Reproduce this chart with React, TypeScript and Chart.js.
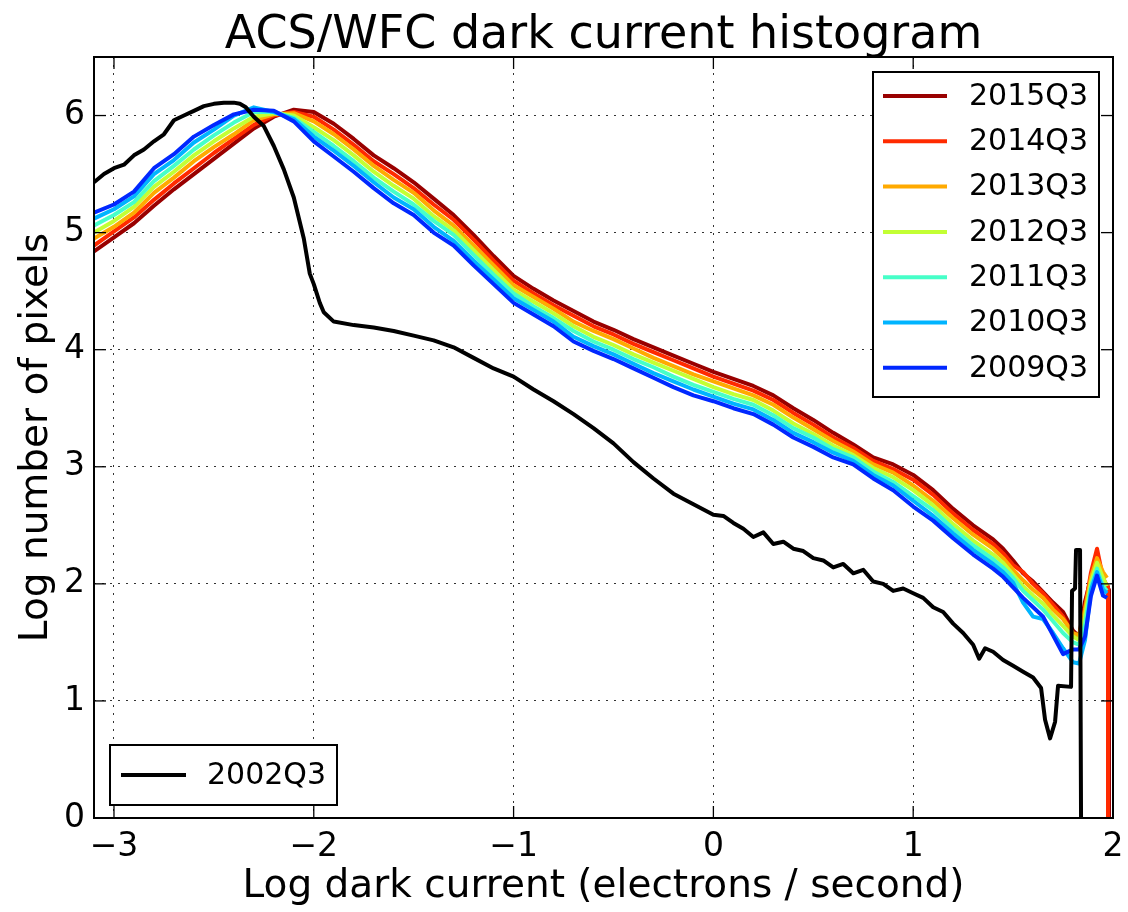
import React, { useEffect, useRef } from 'react';
import { Chart, registerables } from 'chart.js';

Chart.register(...registerables);

const TITLE = 'ACS/WFC dark current histogram';
const X_LABEL = 'Log dark current (electrons / second)';
const Y_LABEL = 'Log number of pixels';
const X_TICKS = [-3, -2, -1, 0, 1, 2];
const Y_TICKS = [0, 1, 2, 3, 4, 5, 6];
const X_MIN = -3.1;
const X_MAX = 2.0;
const Y_MIN = 0;
const Y_MAX = 6.5;

const SERIES_NAMES = ['2015Q3', '2014Q3', '2013Q3', '2012Q3', '2011Q3', '2010Q3', '2009Q3'];
const SERIES_COLORS = ['#990000', '#ff2a00', '#ffaa00', '#c3ff34', '#46ffc8', '#00b4ff', '#0028ff'];
const REF_NAME = '2002Q3';
const REF_COLOR = '#000000';

// common bin positions (log e-/s) for the 2009-2015 histograms
const X_COMMON = [
  -3.1, -3.0, -2.9, -2.8, -2.7, -2.6, -2.5, -2.4, -2.3, -2.2,
  -2.1, -2.0, -1.9, -1.8, -1.7, -1.6, -1.5, -1.4, -1.3, -1.2,
  -1.1, -1.0, -0.9, -0.8, -0.7, -0.6, -0.5, -0.4, -0.3, -0.2,
  -0.1, 0.0, 0.1, 0.2, 0.3, 0.4, 0.5, 0.6, 0.7, 0.8,
  0.9, 1.0, 1.1, 1.2, 1.3, 1.4,
  1.45, 1.5, 1.55, 1.6, 1.65, 1.7, 1.75, 1.8,
  1.83, 1.86, 1.89, 1.92, 1.95, 1.97,
];

const Y_2015 = [
  4.84, 4.96, 5.08, 5.23, 5.37, 5.50, 5.63, 5.76, 5.89, 5.99,
  6.05, 6.03, 5.93, 5.80, 5.66, 5.55, 5.43, 5.29, 5.15, 4.98,
  4.80, 4.63, 4.52, 4.42, 4.33, 4.24, 4.17, 4.09, 4.02, 3.95,
  3.88, 3.81, 3.75, 3.69, 3.61, 3.50, 3.40, 3.29, 3.19, 3.08,
  3.02, 2.93, 2.80, 2.64, 2.50, 2.38,
  2.30, 2.20, 2.09, 2.02, 1.93, 1.84, 1.76, 1.60,
  1.55, 1.85, 2.05, 2.17, 2.02, 1.95,
];
const Y_2014 = [
  4.89, 5.01, 5.13, 5.28, 5.42, 5.55, 5.68, 5.80, 5.92, 6.00,
  6.03, 5.99, 5.88, 5.75, 5.61, 5.50, 5.38, 5.24, 5.11, 4.94,
  4.76, 4.59, 4.48, 4.38, 4.29, 4.20, 4.13, 4.05, 3.98, 3.91,
  3.84, 3.77, 3.71, 3.65, 3.57, 3.46, 3.36, 3.25, 3.16, 3.05,
  2.98, 2.89, 2.76, 2.60, 2.46, 2.34,
  2.26, 2.16, 2.10, 2.00, 1.92, 1.82, 1.72, 1.56,
  1.54, 1.80, 2.10, 2.30, 2.05, 1.98,
];
const Y_2013 = [
  4.95, 5.05, 5.17, 5.34, 5.47, 5.61, 5.73, 5.84, 5.96, 6.01,
  6.02, 5.95, 5.84, 5.71, 5.57, 5.45, 5.34, 5.19, 5.06, 4.89,
  4.72, 4.55, 4.45, 4.35, 4.24, 4.16, 4.09, 4.01, 3.93, 3.86,
  3.79, 3.73, 3.67, 3.61, 3.53, 3.42, 3.32, 3.22, 3.13, 3.02,
  2.95, 2.84, 2.71, 2.56, 2.42, 2.30,
  2.22, 2.12, 2.03, 1.95, 1.88, 1.78, 1.70, 1.58,
  1.56, 1.78, 2.06, 2.22, 2.10, 2.05,
];
const Y_2012 = [
  5.00, 5.10, 5.22, 5.39, 5.52, 5.66, 5.78, 5.89, 5.99, 6.02,
  6.00, 5.90, 5.79, 5.66, 5.52, 5.40, 5.29, 5.14, 5.02, 4.85,
  4.68, 4.51, 4.41, 4.31, 4.20, 4.11, 4.04, 3.96, 3.89, 3.82,
  3.75, 3.68, 3.62, 3.57, 3.48, 3.37, 3.28, 3.18, 3.10, 2.99,
  2.91, 2.80, 2.67, 2.51, 2.37, 2.25,
  2.18, 2.08, 1.98, 1.90, 1.83, 1.73, 1.64, 1.55,
  1.52, 1.72, 2.02, 2.18, 2.05, 1.98,
];
const Y_2011 = [
  5.06, 5.15, 5.26, 5.44, 5.57, 5.71, 5.83, 5.94, 6.03, 6.03,
  5.98, 5.86, 5.74, 5.61, 5.47, 5.35, 5.24, 5.10, 4.98, 4.81,
  4.64, 4.48, 4.37, 4.27, 4.16, 4.07, 4.00, 3.92, 3.85, 3.77,
  3.70, 3.64, 3.58, 3.53, 3.44, 3.33, 3.25, 3.15, 3.08, 2.96,
  2.87, 2.75, 2.63, 2.47, 2.33, 2.21,
  2.14, 2.05, 1.94, 1.86, 1.78, 1.68, 1.58, 1.50,
  1.48, 1.65, 1.98, 2.13, 1.98, 1.94,
];
const Y_2010 = [
  5.12, 5.20, 5.31, 5.50, 5.62, 5.77, 5.88, 6.00, 6.07, 6.03,
  5.97, 5.82, 5.70, 5.57, 5.43, 5.30, 5.20, 5.05, 4.93, 4.76,
  4.60, 4.44, 4.34, 4.24, 4.11, 4.03, 3.96, 3.88, 3.80, 3.73,
  3.66, 3.60, 3.54, 3.49, 3.40, 3.29, 3.21, 3.12, 3.05, 2.93,
  2.84, 2.71, 2.58, 2.43, 2.29, 2.17,
  2.10, 2.01, 1.84, 1.72, 1.70, 1.58, 1.45, 1.33,
  1.32, 1.52, 1.95, 2.10, 1.95, 1.92,
];
const Y_2009 = [
  5.17, 5.24, 5.35, 5.55, 5.67, 5.82, 5.92, 6.01, 6.05, 6.04,
  5.95, 5.78, 5.65, 5.52, 5.38, 5.25, 5.15, 5.00, 4.89, 4.72,
  4.56, 4.40, 4.30, 4.20, 4.07, 3.99, 3.92, 3.84, 3.76, 3.68,
  3.61, 3.56, 3.50, 3.45, 3.36, 3.25, 3.17, 3.08, 3.02, 2.90,
  2.80, 2.66, 2.54, 2.39, 2.25, 2.13,
  2.06, 1.97, 1.88, 1.80, 1.72, 1.56, 1.40, 1.44,
  1.44, 1.55, 1.90, 2.07, 1.90, 1.88,
];

// tails where the histograms fall to zero
const TAIL_2015_X = [1.98, 1.98];
const TAIL_2015_Y = [1.95, 0];
const TAIL_2014_X = [1.975, 1.975];
const TAIL_2014_Y = [1.98, 0];

// 2002Q3 reference histogram
const X_2002 = [
  -3.1, -3.05, -3.0, -2.95, -2.9, -2.85, -2.8, -2.75, -2.7, -2.65,
  -2.6, -2.55, -2.5, -2.45, -2.4, -2.37, -2.34, -2.3, -2.25, -2.2,
  -2.15, -2.1, -2.05, -2.02, -2.0, -1.97, -1.95, -1.9, -1.8, -1.7,
  -1.6, -1.5, -1.4, -1.3, -1.2, -1.1, -1.0, -0.9, -0.8, -0.7,
  -0.6, -0.5, -0.4, -0.3, -0.2, -0.1, 0.0, 0.05, 0.1, 0.15,
  0.2, 0.25, 0.3, 0.35, 0.4, 0.45, 0.5, 0.55, 0.6, 0.65,
  0.7, 0.75, 0.8, 0.85, 0.9, 0.95, 1.0, 1.05, 1.1, 1.15,
  1.2, 1.25, 1.3, 1.33, 1.36, 1.4, 1.45, 1.5, 1.55, 1.6,
  1.64, 1.66, 1.685, 1.71, 1.725, 1.79, 1.795, 1.81, 1.815, 1.835,
  1.84,
];
const Y_2002 = [
  5.43, 5.50, 5.55, 5.58, 5.66, 5.71, 5.78, 5.84, 5.96, 6.00,
  6.04, 6.08, 6.10, 6.11, 6.11, 6.10, 6.07, 5.99, 5.91, 5.74,
  5.54, 5.30, 4.95, 4.65, 4.56, 4.40, 4.32, 4.24, 4.21, 4.19,
  4.16, 4.12, 4.08, 4.02, 3.93, 3.84, 3.77, 3.66, 3.56, 3.45,
  3.33, 3.20, 3.04, 2.90, 2.77, 2.68, 2.59, 2.58, 2.52, 2.47,
  2.40, 2.44, 2.34, 2.36, 2.30, 2.28, 2.22, 2.20, 2.14, 2.17,
  2.09, 2.12, 2.02, 2.00, 1.94, 1.96, 1.92, 1.88, 1.80, 1.76,
  1.66, 1.58, 1.48, 1.36, 1.45, 1.42, 1.35, 1.30, 1.25, 1.20,
  1.11, 0.84, 0.68, 0.82, 1.13, 1.12, 1.94, 1.96, 2.29, 2.29,
  0,
];

const FONT = 'DejaVu Sans';

function pts(xs: number[], ys: number[]) {
  return xs.map((x, i) => ({ x, y: ys[i] }));
}

function fmt(v: number) {
  return v < 0 ? '\u2212' + Math.abs(v) : String(v);
}

const decorPlugin = {
  id: 'decor',
  afterDraw(chart: any) {
    const { ctx, chartArea: a, scales } = chart;
    ctx.save();
    const seg = (x1: number, y1: number, x2: number, y2: number) => {
      ctx.beginPath();
      ctx.moveTo(x1, y1);
      ctx.lineTo(x2, y2);
      ctx.stroke();
    };
    // inward ticks on all sides
    ctx.strokeStyle = '#000';
    ctx.lineWidth = 1.3;
    for (const v of X_TICKS) {
      const px = scales.x.getPixelForValue(v);
      seg(px, a.bottom, px, a.bottom - 12);
      seg(px, a.top, px, a.top + 12);
    }
    for (const v of Y_TICKS) {
      const py = scales.y.getPixelForValue(v);
      seg(a.left, py, a.left + 12, py);
      seg(a.right, py, a.right - 12, py);
    }
    // frame
    ctx.lineWidth = 2;
    ctx.strokeRect(a.left, a.top, a.right - a.left, a.bottom - a.top);

    // title
    ctx.fillStyle = '#000';
    ctx.font = `46px "${FONT}"`;
    ctx.textAlign = 'center';
    ctx.textBaseline = 'alphabetic';
    ctx.fillText(TITLE, (a.left + a.right) / 2, 48);

    // legends
    ctx.font = `30px "${FONT}"`;
    ctx.textAlign = 'left';
    ctx.textBaseline = 'middle';
    const drawBox = (x: number, y: number, w: number, h: number) => {
      ctx.fillStyle = '#fff';
      ctx.fillRect(x, y, w, h);
      ctx.strokeStyle = '#000';
      ctx.lineWidth = 2;
      ctx.strokeRect(x, y, w, h);
    };
    drawBox(873, 72, 226, 325);
    SERIES_NAMES.forEach((name, i) => {
      const y = 96 + i * 45.3;
      ctx.strokeStyle = SERIES_COLORS[i];
      ctx.lineWidth = 4;
      seg(883, y, 947, y);
      ctx.fillStyle = '#000';
      ctx.fillText(name, 969, y + 1);
    });
    drawBox(110, 745, 227, 60);
    ctx.strokeStyle = REF_COLOR;
    ctx.lineWidth = 4;
    seg(121, 775, 186, 775);
    ctx.fillStyle = '#000';
    ctx.fillText(REF_NAME, 207, 776);
    ctx.restore();
  },
};

export default function App() {
  const canvasRef = useRef<HTMLCanvasElement | null>(null);

  useEffect(() => {
    document.body.style.margin = '0';
    const canvas = canvasRef.current;
    if (!canvas) return;

    const seriesY = [Y_2015, Y_2014, Y_2013, Y_2012, Y_2011, Y_2010, Y_2009];
    const colored = SERIES_NAMES.map((name, i) => {
      let data = pts(X_COMMON, seriesY[i]);
      if (i === 0) data = data.concat(pts(TAIL_2015_X, TAIL_2015_Y));
      if (i === 1) data = data.concat(pts(TAIL_2014_X, TAIL_2014_Y));
      return {
        label: name,
        data,
        borderColor: SERIES_COLORS[i],
        backgroundColor: SERIES_COLORS[i],
        borderWidth: 4,
        pointRadius: 0,
        tension: 0,
        borderJoinStyle: 'round' as const,
        order: 7 - i,
      };
    });
    const ref = {
      label: REF_NAME,
      data: pts(X_2002, Y_2002),
      borderColor: REF_COLOR,
      backgroundColor: REF_COLOR,
      borderWidth: 4,
      pointRadius: 0,
      tension: 0,
      borderJoinStyle: 'round' as const,
      order: 0,
    };

    const chart = new Chart(canvas, {
      type: 'line',
      data: { datasets: [ref, ...colored] as any },
      options: {
        animation: false,
        responsive: false,
        parsing: false as any,
        layout: { padding: { left: 7, right: 15, top: 57, bottom: 0 } },
        plugins: { legend: { display: false }, tooltip: { enabled: false }, title: { display: false } },
        scales: {
          x: {
            type: 'linear',
            min: X_MIN,
            max: X_MAX,
            afterBuildTicks: (s: any) => { s.ticks = X_TICKS.map((value) => ({ value })); },
            afterFit: (s: any) => { s.height = 94; s.paddingLeft = 0; s.paddingRight = 0; },
            grid: { color: '#333', lineWidth: 1, drawTicks: false },
            border: { display: false, dash: [2, 6] },
            ticks: {
              color: '#000',
              font: { family: FONT, size: 33 },
              padding: 10,
              maxRotation: 0,
              autoSkip: false,
              callback: (v: any) => fmt(Number(v)),
            },
            title: {
              display: true,
              text: X_LABEL,
              color: '#000',
              font: { family: FONT, size: 39 },
              padding: { top: 0, bottom: 2 },
            },
          },
          y: {
            type: 'linear',
            min: Y_MIN,
            max: Y_MAX,
            afterBuildTicks: (s: any) => { s.ticks = Y_TICKS.map((value) => ({ value })); },
            afterFit: (s: any) => { s.width = 87; s.paddingTop = 0; s.paddingBottom = 0; },
            grid: { color: '#333', lineWidth: 1, drawTicks: false },
            border: { display: false, dash: [2, 6] },
            ticks: {
              color: '#000',
              font: { family: FONT, size: 33 },
              padding: 9,
              autoSkip: false,
              callback: (v: any) => fmt(Number(v)),
            },
            title: {
              display: true,
              text: Y_LABEL,
              color: '#000',
              font: { family: FONT, size: 39 },
              padding: { top: 6, bottom: 0 },
            },
          },
        },
      },
      plugins: [decorPlugin],
    });
    return () => chart.destroy();
  }, []);

  return (
    <div style={{ width: 1128, height: 912, background: '#fff' }}>
      <canvas ref={canvasRef} width={1128} height={912} style={{ display: 'block' }} />
    </div>
  );
}
